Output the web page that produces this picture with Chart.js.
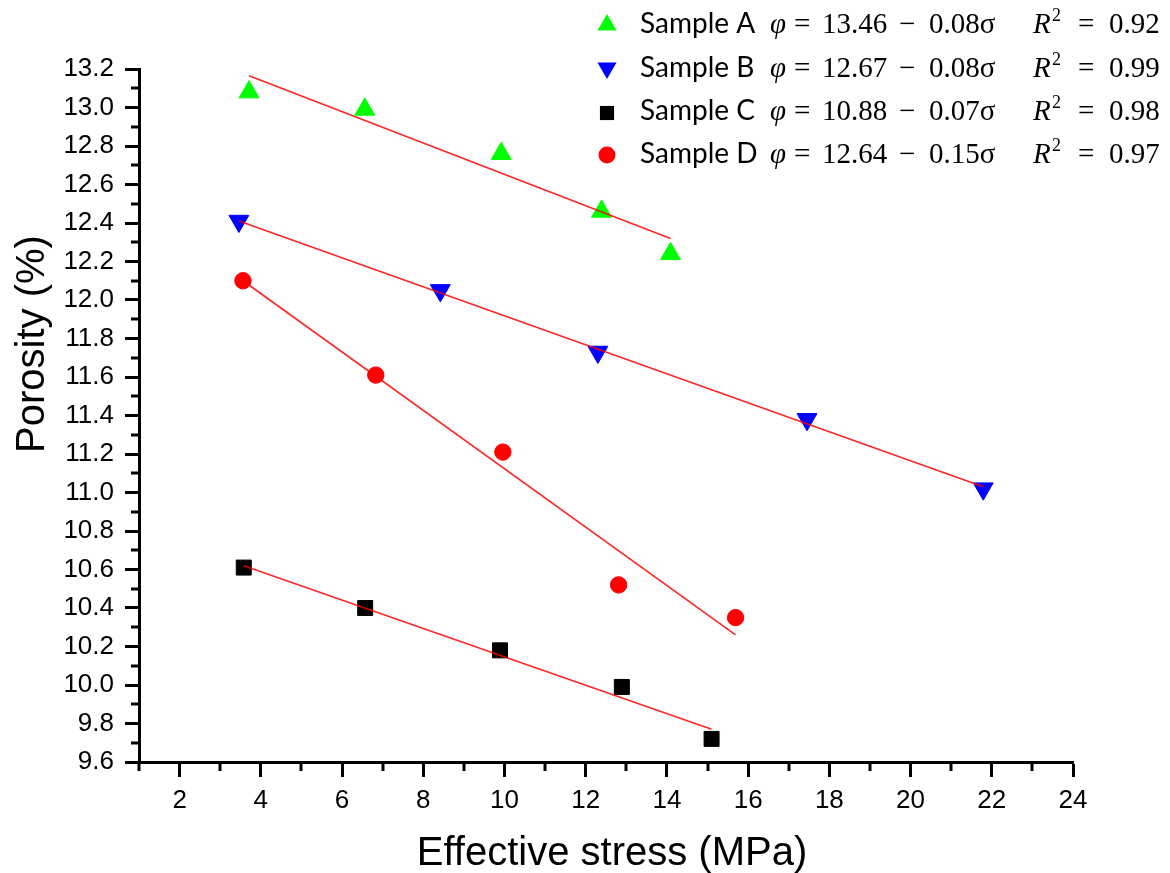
<!DOCTYPE html>
<html>
<head>
<meta charset="utf-8">
<script src="https://cdn.jsdelivr.net/npm/chart.js@4.4.0/dist/chart.umd.min.js"></script>
<style>
    html, body { margin: 0; padding: 0; background: #fff; }
    canvas { display: block; }
</style>
</head>
<body>
<canvas id="porosityChart" width="1170" height="873"></canvas>
<script>
// Measured points (effective stress in MPa, porosity in %)
const stressA = [3.71, 6.56, 9.92, 12.39, 14.09];
const porosityA = [13.08, 12.99, 12.76, 12.46, 12.24];
const stressB = [3.46, 8.42, 12.30, 17.45, 21.79];
const porosityB = [12.41, 12.05, 11.73, 11.38, 11.02];
const stressC = [3.58, 6.57, 9.89, 12.89, 15.10];
const porosityC = [10.61, 10.40, 10.18, 9.99, 9.72];
const stressD = [3.56, 6.83, 9.96, 12.81, 15.69];
const porosityD = [12.10, 11.61, 11.21, 10.52, 10.35];

// Fitted lines, start and end
const fitStressA = [3.71, 14.09];
const fitPorosityA = [13.165, 12.32];
const fitStressB = [3.46, 21.79];
const fitPorosityB = [12.41, 11.03];
const fitStressC = [3.58, 15.10];
const fitPorosityC = [10.62, 9.77];
const fitStressD = [3.56, 15.69];
const fitPorosityD = [12.10, 10.26];

// Legend text
const sampleNames = ['Sample A', 'Sample B', 'Sample C', 'Sample D'];
const intercepts = ['13.46', '12.67', '10.88', '12.64'];
const slopes = ['0.08', '0.08', '0.07', '0.15'];
const rSquared = ['0.92', '0.99', '0.98', '0.97'];

// Axis ranges
const stressMin = 1, stressMax = 24;
const porosityMin = 9.6, porosityMax = 13.2;

const sampleColors = ['#00ff00', '#0000ff', '#000000', '#ff0000'];
const fitColor = 'rgba(255, 0, 0, 0.85)';

function toPoints(xs, ys) {
    return xs.map((x, i) => ({ x: x, y: ys[i] }));
}

// Draw a legend marker by hand
function drawMarker(ctx, style, x, y, r, color) {
    ctx.fillStyle = color;
    ctx.beginPath();
    if (style === 'up' || style === 'down') {
        const s = style === 'up' ? -1 : 1;
        const half = r * Math.sqrt(3) / 2;
        ctx.moveTo(x, y + s * r);
        ctx.lineTo(x - half, y - s * r / 2);
        ctx.lineTo(x + half, y - s * r / 2);
    } else if (style === 'rect') {
        const h = r * Math.SQRT1_2;
        ctx.rect(x - h, y - h, 2 * h, 2 * h);
    } else {
        ctx.arc(x, y, r, 0, Math.PI * 2);
    }
    ctx.closePath();
    ctx.fill();
}

// Minor ticks, legend and axis titles
const overlayPlugin = {
    id: 'overlay',
    afterDraw(chart) {
        const ctx = chart.ctx;
        const area = chart.chartArea;
        const xs = chart.scales.x;
        const ys = chart.scales.y;
        ctx.save();

        // minor ticks
        ctx.strokeStyle = '#000';
        ctx.lineWidth = 3;
        for (let v = stressMin; v < stressMax; v += 2) {
            const px = Math.round(xs.getPixelForValue(v));
            ctx.beginPath();
            ctx.moveTo(px, area.bottom);
            ctx.lineTo(px, area.bottom + 9);
            ctx.stroke();
        }
        for (let k = 1; k < 36; k += 2) {
            const py = Math.round(ys.getPixelForValue(porosityMin + k * 0.1));
            ctx.beginPath();
            ctx.moveTo(area.left, py);
            ctx.lineTo(area.left - 8, py);
            ctx.stroke();
        }

        // legend
        const markerStyles = ['up', 'down', 'rect', 'circle'];
        const markerSizes = [11, 11, 10, 8.5];
        const markerY = [25, 68, 113, 155];
        const baseY = [33, 77, 120, 163];
        const serif = '"Liberation Serif", serif';
        ctx.textAlign = 'left';
        ctx.textBaseline = 'alphabetic';
        sampleNames.forEach((name, i) => {
            drawMarker(ctx, markerStyles[i], 607, markerY[i], markerSizes[i], sampleColors[i]);
            const b = baseY[i];
            ctx.fillStyle = '#000';
            ctx.font = '28px Lato';
            ctx.fillText(name, 640, b);
            ctx.font = 'italic 29px ' + serif;
            ctx.fillText('φ', 770, b);
            ctx.font = '29px ' + serif;
            ctx.fillText('=', 794, b);
            ctx.fillText(intercepts[i], 822, b);
            ctx.fillText('−', 899, b);
            ctx.fillText(slopes[i] + 'σ', 929, b);
            ctx.font = 'italic 29px ' + serif;
            ctx.fillText('R', 1033, b);
            ctx.font = '18px ' + serif;
            ctx.fillText('2', 1052, b - 12);
            ctx.font = '29px ' + serif;
            ctx.fillText('=', 1078, b);
            ctx.fillText(rSquared[i], 1109, b);
        });

        // axis titles
        ctx.font = '40px "Liberation Sans"';
        ctx.textAlign = 'center';
        ctx.fillText('Effective stress (MPa)', 612, 865);
        ctx.translate(44, 344);
        ctx.rotate(-Math.PI / 2);
        ctx.fillText('Porosity (%)', 0, 0);
        ctx.restore();
    }
};

// Build scatter + fit datasets
function buildDatasets() {
    const fits = [
        [fitStressA, fitPorosityA], [fitStressB, fitPorosityB],
        [fitStressC, fitPorosityC], [fitStressD, fitPorosityD]
    ].map(([xs, ys]) => ({
        data: toPoints(xs, ys),
        showLine: true,
        borderColor: fitColor,
        borderWidth: 1.6,
        pointRadius: 0,
        fill: false
    }));

    const samples = [
        { data: toPoints(stressA, porosityA), pointStyle: 'triangle', pointRadius: 11.5, pointRotation: 0 },
        { data: toPoints(stressB, porosityB), pointStyle: 'triangle', pointRadius: 11.5, pointRotation: 180 },
        { data: toPoints(stressC, porosityC), pointStyle: 'rect', pointRadius: 10.6, pointRotation: 0 },
        { data: toPoints(stressD, porosityD), pointStyle: 'circle', pointRadius: 8.2, pointRotation: 0 }
    ].map((s, i) => Object.assign(s, {
        label: sampleNames[i],
        backgroundColor: sampleColors[i],
        borderColor: sampleColors[i],
        borderWidth: 1,
        showLine: false
    }));

    // fit lines first so they are drawn on top of the markers
    return fits.concat(samples);
}

const tickFont = { family: '"Liberation Sans", Arial, sans-serif', size: 26 };

new Chart(document.getElementById('porosityChart').getContext('2d'), {
    type: 'scatter',
    data: { datasets: buildDatasets() },
    options: {
        responsive: false,
        animation: false,
        devicePixelRatio: 1,
        layout: { padding: { top: 69, right: 97, bottom: 0, left: 0 } },
        plugins: {
            legend: { display: false },
            tooltip: { enabled: false }
        },
        scales: {
            x: {
                type: 'linear',
                min: stressMin,
                max: stressMax,
                afterFit: scale => { scale.height = 111; },
                border: { display: true, color: '#000', width: 3 },
                grid: {
                    drawOnChartArea: false,
                    tickLength: 15,
                    tickWidth: 3,
                    tickColor: c => (c.tick && c.tick.value % 2 === 0) ? '#000' : 'rgba(0,0,0,0)'
                },
                ticks: {
                    stepSize: 1,
                    autoSkip: false,
                    maxRotation: 0,
                    padding: 8,
                    color: '#000',
                    font: tickFont,
                    callback: v => (v % 2 === 0 ? String(v) : '')
                }
            },
            y: {
                type: 'linear',
                min: porosityMin,
                max: porosityMax,
                afterFit: scale => { scale.width = 139; },
                border: { display: true, color: '#000', width: 3 },
                grid: {
                    drawOnChartArea: false,
                    tickLength: 14,
                    tickWidth: 3,
                    tickColor: c => (c.tick && Math.round(c.tick.value * 10) % 2 === 0) ? '#000' : 'rgba(0,0,0,0)'
                },
                ticks: {
                    stepSize: 0.1,
                    autoSkip: false,
                    padding: 11,
                    color: '#000',
                    font: tickFont,
                    callback: v => (Math.round(v * 10) % 2 === 0 ? v.toFixed(1) : '')
                }
            }
        }
    },
    plugins: [overlayPlugin]
});
</script>
</body>
</html>
